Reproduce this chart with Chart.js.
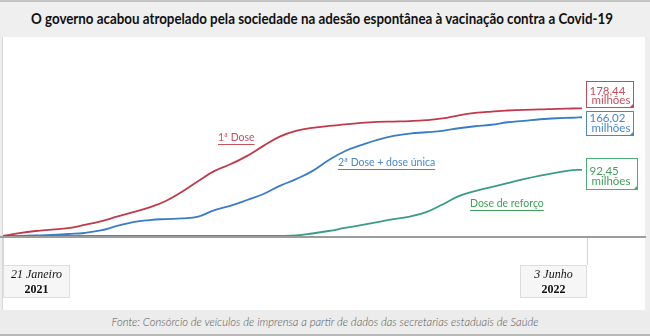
<!DOCTYPE html>
<html lang="pt-br">
<head>
<meta charset="UTF-8">
<title>Vacinação contra a Covid-19</title>
<script src="https://cdn.jsdelivr.net/npm/chart.js"></script>
<style>
    html, body { margin: 0; padding: 0; }
    body { width: 650px; height: 336px; background: #eeeeee; position: relative; overflow: hidden; font-family: Lato, sans-serif; }
    #titulo { position: absolute; left: 0; top: 0; width: 650px; height: 37px; background: #efefef; border-top: 2px solid #c4c4c4; box-sizing: border-box; }
    #titulo span { position: absolute; left: 322px; top: 8px; white-space: nowrap; font-weight: bold; font-size: 14.5px; color: #111; transform-origin: center top; }
    #painel { position: absolute; left: 2px; top: 37px; width: 643px; height: 273px; background: #fff; border-left: 1px solid #d8d8d8; box-sizing: border-box; }
    #fonte { position: absolute; left: 0; top: 311px; width: 650px; height: 25px; background: #ececec; border-bottom: 2px solid #b8b8b8; box-sizing: border-box; }
    #fonte span { position: absolute; left: 325px; top: 4px; white-space: nowrap; font-style: italic; font-weight: 300; font-size: 11.5px; color: #555; transform-origin: center top; }
    canvas { position: absolute; left: 0; top: 0; }
</style>
</head>
<body>
    <div id="titulo"><span data-largura="582">O governo acabou atropelado pela sociedade na adesão espontânea à vacinação contra a Covid-19</span></div>
    <div id="painel"></div>
    <div id="fonte"><span data-largura="427">Fonte: Consórcio de veículos de imprensa a partir de dados das secretarias estaduais de Saúde</span></div>
    <canvas id="graficoVacinas" width="650" height="336"></canvas>

<script>
// dias desde 21/01/2021 e doses acumuladas (milhões)
const dias = [0, 14, 28, 42, 56, 70, 84, 98, 112, 126, 140, 154, 168, 182, 196, 210, 224, 238, 252,
              266, 280, 294, 308, 322, 336, 350, 364, 378, 392, 406, 420, 434, 448, 462, 476, 490, 498];
const primeiraDose = [0, 4, 7, 9, 11, 15.4, 20.5, 27, 33.5, 40, 49, 62, 77, 91, 100.6, 112, 126, 139, 147,
                      151, 153.8, 155.9, 158, 159.4, 160, 160.7, 162, 164.3, 168.7, 172, 174, 175.4, 176.4, 177, 177.8, 178.2, 178.44];
const segundaDose = [0, 0.3, 0.7, 1.4, 2.8, 4.2, 7.7, 14, 19.5, 22.3, 23.7, 24.5, 27.2, 36.3, 42.6, 50.3, 58.7, 70, 79.5,
                     90.7, 106, 118.5, 127, 134.5, 140, 143.2, 145, 147, 150.6, 153.4, 155.5, 159, 161, 163.2, 164.6, 165.3, 166.02];
const doseReforco = [0, 0, 0, 0, 0, 0, 0, 0, 0, 0, 0, 0, 0, 0, 0, 0, 0, 0, 0.7,
                     3.5, 7, 11.2, 15.3, 19.5, 23.7, 27.2, 33.5, 44, 55.8, 62.8, 68.3, 74, 79.5, 84.4, 88.6, 92, 92.45];

const nomesSeries = ['1ª Dose', '2ª Dose + dose única', 'Dose de reforço'];
const diasRotulos = [0, 498];
const rotulosData = [['21 Janeiro', '2021'], ['3 Junho', '2022']];

const cores = ['#c13a4c', '#3b7cc6', '#3a9c86'];
const coresTexto = ['#c8505f', '#4a86c9', '#3f9f5a'];
const coresCaixa = ['#c94a5a', '#4a86c9', '#4dab78'];

// ajusta a largura dos textos do cabeçalho e do rodapé
document.querySelectorAll('[data-largura]').forEach(el => {
    const alvo = +el.dataset.largura;
    const w = el.getBoundingClientRect().width;
    el.style.transform = 'translateX(-50%) scaleX(' + (alvo / w) + ')';
});

function pontos(valores) {
    return dias.map((d, i) => ({ x: d, y: valores[i] }));
}

const decoracao = {
    id: 'decoracao',
    beforeDatasetsDraw(chart) {
        const { ctx, scales: { x, y } } = chart;
        const base = y.getPixelForValue(0);
        ctx.save();
        // eixo horizontal
        ctx.strokeStyle = '#9c9c9c';
        ctx.lineWidth = 2;
        ctx.beginPath();
        ctx.moveTo(0, base + 1);
        ctx.lineTo(646, base + 1);
        ctx.stroke();

        // marcas e caixas das datas
        diasRotulos.forEach((d, i) => {
            const px = x.getPixelForValue(d);
            const esq = i === 0 ? px : px + 5 - 67;
            const marca = i === 0 ? px + 0.5 : px + 5.5;
            ctx.strokeStyle = '#d4d4d4';
            ctx.lineWidth = 1;
            ctx.beginPath();
            ctx.moveTo(marca, base + 2);
            ctx.lineTo(marca, base + 29);
            ctx.stroke();

            ctx.fillStyle = '#f6f6f6';
            ctx.fillRect(esq, base + 29, 67, 33);
            ctx.strokeStyle = '#dddddd';
            ctx.strokeRect(esq + 0.5, base + 29.5, 66, 32);

            ctx.fillStyle = '#111';
            ctx.textAlign = 'center';
            ctx.textBaseline = 'middle';
            ctx.font = 'italic 12px "Liberation Serif", serif';
            ctx.fillText(rotulosData[i][0], esq + 33.5, base + 39);
            ctx.font = 'bold 12px "Liberation Serif", serif';
            ctx.fillText(rotulosData[i][1], esq + 33.5, base + 54);
        });
        ctx.restore();
    },
    afterDatasetsDraw(chart) {
        const { ctx } = chart;
        ctx.save();

        // nomes das séries, sublinhados
        const posNomes = [[218, 138], [338, 163], [470, 204]];
        ctx.font = '10.5px Lato, sans-serif';
        ctx.textAlign = 'left';
        ctx.textBaseline = 'middle';
        nomesSeries.forEach((nome, i) => {
            const [tx, ty] = posNomes[i];
            const w = ctx.measureText(nome).width;
            ctx.fillStyle = coresTexto[i];
            ctx.fillText(nome, tx, ty);
            ctx.strokeStyle = coresTexto[i];
            ctx.lineWidth = 1;
            ctx.beginPath();
            ctx.moveTo(tx, ty + 6.5);
            ctx.lineTo(tx + w, ty + 6.5);
            ctx.stroke();
        });

        // caixas com o valor final de cada série
        const caixas = [
            { dy: -27, w: 47, h: 26, l1: 9.5, l2: 18.5 },
            { dy: -6, w: 47, h: 24, l1: 6.5, l2: 16.5 },
            { dy: -12, w: 51, h: 31, l1: 12.5, l2: 22.5 }
        ];
        chart.data.datasets.forEach((ds, i) => {
            const meta = chart.getDatasetMeta(i);
            const ult = meta.data[meta.data.length - 1];
            const valor = ds.data[ds.data.length - 1].y;
            const c = caixas[i];
            const bx = Math.round(ult.x) + 4.5;
            const by = Math.round(ult.y + c.dy) + 0.5;
            ctx.fillStyle = '#fff';
            ctx.fillRect(bx, by, c.w, c.h);
            ctx.strokeStyle = coresCaixa[i];
            ctx.lineWidth = 1;
            ctx.strokeRect(bx, by, c.w, c.h);
            // canto dobrado
            ctx.fillStyle = coresCaixa[i];
            ctx.beginPath();
            ctx.moveTo(bx + c.w - 4, by + c.h);
            ctx.lineTo(bx + c.w, by + c.h - 4);
            ctx.lineTo(bx + c.w, by + c.h);
            ctx.closePath();
            ctx.fill();

            ctx.fillStyle = coresTexto[i];
            ctx.font = '11.5px Lato, sans-serif';
            ctx.textAlign = 'left';
            ctx.textBaseline = 'middle';
            ctx.fillText(valor.toFixed(2).replace('.', ','), bx + 3, by + c.l1);
            ctx.fillText('milhões', bx + 5, by + c.l2);
        });
        ctx.restore();
    }
};

const ctx = document.getElementById('graficoVacinas').getContext('2d');
const graficoVacinas = new Chart(ctx, {
    type: 'line',
    data: {
        datasets: [
            { label: nomesSeries[0], data: pontos(primeiraDose), borderColor: cores[0] },
            { label: nomesSeries[1], data: pontos(segundaDose), borderColor: cores[1] },
            { label: nomesSeries[2], data: pontos(doseReforco), borderColor: cores[2] }
        ]
    },
    options: {
        responsive: false,
        animation: false,
        layout: { padding: { left: 3, right: 68, top: 50, bottom: 100 } },
        elements: {
            line: { borderWidth: 1.8, tension: 0.45 },
            point: { radius: 0 }
        },
        scales: {
            x: { type: 'linear', min: 0, max: 498, display: false },
            y: { min: 0, max: 260, display: false }
        },
        plugins: {
            legend: { display: false },
            tooltip: { enabled: false }
        }
    },
    plugins: [decoracao]
});
</script>
</body>
</html>
